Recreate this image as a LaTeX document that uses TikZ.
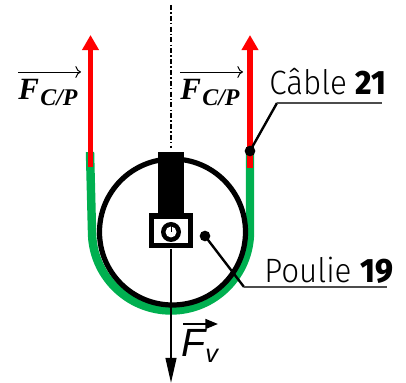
\documentclass[tikz,border=0pt]{standalone}
\usepackage{fontspec}
\setmainfont{Fira Sans Light}[BoldFont={Fira Sans ExtraBold},FakeStretch=.93]
\newfontfamily\fcpfont{Liberation Serif}
\newfontfamily\fvfont{Liberation Sans}
\usetikzlibrary{arrows.meta}
\tikzset{
  cable/.style={line width=6pt,color=cablegreen},
  force/.style={line width=3.8pt,red,-{Triangle[length=10.7pt,width=11.4pt]}},
  dot/.style={circle,fill=black,inner sep=0pt,minimum size=7.6pt},
  leader/.style={line width=1.7pt},
  rule/.style={line width=.9pt,black!70},
  legend/.style={anchor=base west,inner sep=0pt,font=\fontsize{24}{26}\selectfont},
  fcp/.style={anchor=base west,inner sep=0pt,font=\fcpfont\bfseries\itshape\fontsize{22}{24}\selectfont},
}
\definecolor{cablegreen}{RGB}{0,176,80}
\begin{document}
\begin{tikzpicture}[x=.25mm,y=.25mm]
\useasboundingbox (0,0) rectangle (406,383);
\draw[line width=.9pt,dash pattern=on 3.5pt off 1.6pt on 1pt off 1.6pt] (171,378) -- (171,235);
\draw[cable] (90,231) -- (92,151.5) arc (180:360:79) -- (250,233);
\draw[force] (90.5,216) -- (90.5,348);
\draw[force] (250,215) -- (250,348);
\draw[line width=3.7pt] (172.5,151) circle (73);
\fill (158,231) rectangle (184,170);
\fill (149,170) rectangle (193,135);
\fill[white] (154,164) rectangle (188,140);
\fill (171,151) circle (10);
\fill[white] (171,151) circle (5.5);
\draw[line width=.6pt] (171,157) -- (171,151);
\node (axle) at (171,135) [inner sep=0pt] {};
\coordinate (vtip) at (171,0);
\draw[line width=1.5pt,-{Triangle[length=17.8pt,width=7.6pt]}] (axle) -- (vtip);
% labels
\node[legend] (cablelab) at (269,288) {Câble \textbf{21}};
\node[legend] (poulielab) at (264,100) {Poulie \textbf{19}};
\node[dot] (cabledot) at (250,232) {};
\node[dot] (pouliedot) at (205,147) {};
\coordinate (cableknee) at (277,280);
\coordinate (cableend) at (382,280);
\coordinate (poulieknee) at (244,96);
\coordinate (poulieend) at (387,96);
\draw[leader] (cabledot.center) -- (cableknee);
\draw[rule] (cableknee) -- (cableend);
\draw[leader] (pouliedot.center) -- (poulieknee);
\draw[rule] (poulieknee) -- (poulieend);
% forces
\node[fcp] (fleft) at (18,283) {F\raisebox{-4pt}{\fontsize{17}{20}\selectfont\hspace{1pt}C/P}};
\node[fcp] (fright) at (180,283) {F\raisebox{-4pt}{\fontsize{17}{20}\selectfont\hspace{1pt}C/P}};
\coordinate (fleftstart) at (18,311);
\coordinate (flefttip) at (81,311);
\coordinate (frightstart) at (180,311);
\coordinate (frighttip) at (243,311);
\draw[line width=.7pt,-{To[length=4pt]}] (fleftstart) -- (flefttip);
\draw[line width=.7pt,-{To[length=4pt]}] (frightstart) -- (frighttip);
\node[anchor=base west,inner sep=0pt,font=\fvfont\itshape\fontsize{28}{30}\selectfont] (fv) at (181,26) {F\raisebox{-4pt}{\fontsize{18}{20}\selectfont v}};
\coordinate (fvstart) at (183,59);
\coordinate (fvtip) at (218,59);
\draw[line width=1.5pt,-{Triangle[length=9pt,width=7pt]}] (fvstart) -- (fvtip);
\end{tikzpicture}
\end{document}
